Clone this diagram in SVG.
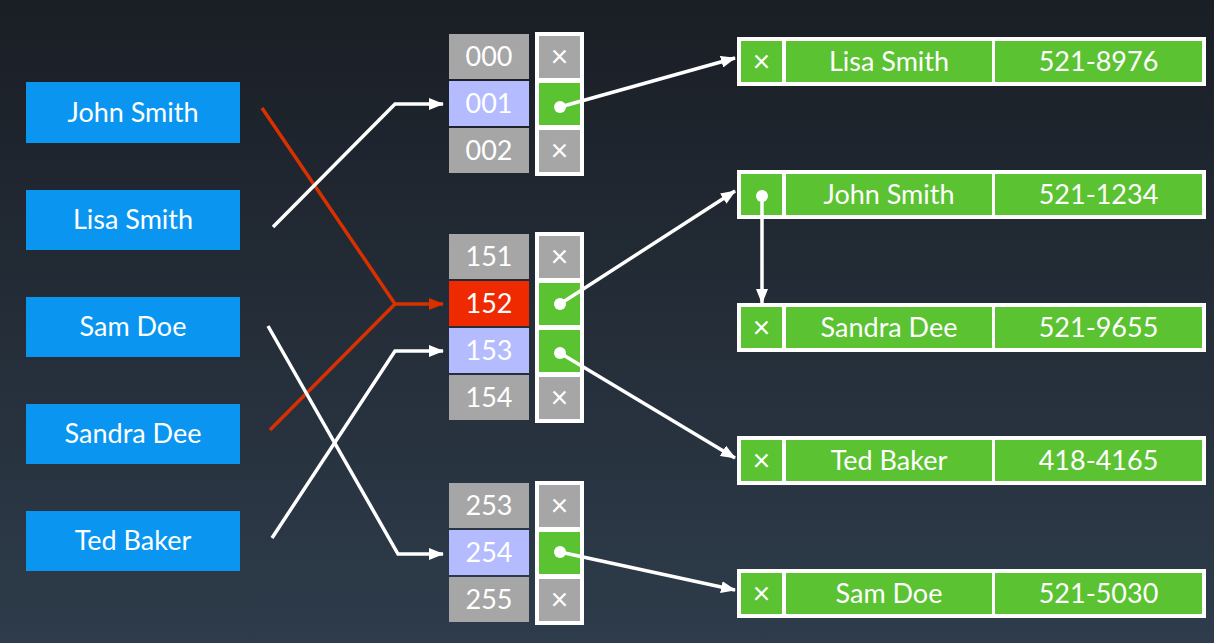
<svg xmlns="http://www.w3.org/2000/svg" width="1214" height="643" viewBox="0 0 1214 643">
<defs>
<linearGradient id="bg" x1="0" y1="0" x2="0" y2="1">
<stop offset="0" stop-color="#1a1e25"/>
<stop offset="1" stop-color="#2e3c4b"/>
</linearGradient>
<marker id="aw" markerUnits="userSpaceOnUse" markerWidth="15" markerHeight="12" refX="14" refY="6" orient="auto">
<path d="M0,0 L15,6 L0,12 Z" fill="#ffffff"/>
</marker>
<marker id="ar" markerUnits="userSpaceOnUse" markerWidth="15" markerHeight="12" refX="14" refY="6" orient="auto">
<path d="M0,0 L15,6 L0,12 Z" fill="#d93000"/>
</marker>
</defs>
<style>
text{font-family:Lato,"Open Sans","DejaVu Sans",sans-serif;fill:#ffffff;text-anchor:middle}
.key{fill:#0a96f0}
.kt{font-size:27px}
.gray{fill:#a6a6a6}
.lav{fill:#b4bbff}
.red{fill:#f02a00}
.grn{fill:#5bc232}
.wht{fill:#ffffff}
.it{font-size:27px}
.x{font-size:30px}
.rt{font-size:27px}
.lw{fill:none;stroke:#ffffff;stroke-width:3.5;stroke-linejoin:miter}
.lr{fill:none;stroke:#d93000;stroke-width:3.5}
.dot{fill:#ffffff}
</style>
<rect x="0" y="0" width="1214" height="643" fill="url(#bg)"/>

<g id="key-john"><rect class="key" x="26" y="82" width="214" height="61"/><text class="kt" x="133" y="122">John Smith</text></g>
<g id="key-lisa"><rect class="key" x="26" y="190" width="214" height="60"/><text class="kt" x="133" y="229">Lisa Smith</text></g>
<g id="key-sam"><rect class="key" x="26" y="297" width="214" height="60"/><text class="kt" x="133" y="336">Sam Doe</text></g>
<g id="key-sandra"><rect class="key" x="26" y="404" width="214" height="60"/><text class="kt" x="133" y="443">Sandra Dee</text></g>
<g id="key-ted"><rect class="key" x="26" y="511" width="214" height="60"/><text class="kt" x="133" y="550">Ted Baker</text></g>

<g id="bucket-000"><rect class="gray" x="449" y="34" width="80" height="45"/><text class="it" x="489" y="66">000</text></g>
<g id="bucket-001"><rect class="lav" x="449" y="81" width="80" height="45"/><text class="it" x="489" y="113">001</text></g>
<g id="bucket-002"><rect class="gray" x="449" y="128" width="80" height="45"/><text class="it" x="489" y="160">002</text></g>
<g id="ptr-col-1">
<rect class="wht" x="535" y="32" width="49" height="144"/>
<rect class="gray" x="539" y="36" width="41" height="42"/><text class="x" x="559.5" y="67">×</text>
<rect class="grn" x="539" y="83" width="41" height="42"/>
<rect class="gray" x="539" y="130" width="41" height="42"/><text class="x" x="559.5" y="161">×</text>
</g>

<g id="bucket-151"><rect class="gray" x="449" y="234" width="80" height="45"/><text class="it" x="489" y="266">151</text></g>
<g id="bucket-152"><rect class="red" x="449" y="281" width="80" height="45"/><text class="it" x="489" y="313">152</text></g>
<g id="bucket-153"><rect class="lav" x="449" y="328" width="80" height="45"/><text class="it" x="489" y="360">153</text></g>
<g id="bucket-154"><rect class="gray" x="449" y="375" width="80" height="45"/><text class="it" x="489" y="407">154</text></g>
<g id="ptr-col-2">
<rect class="wht" x="535" y="232" width="49" height="191"/>
<rect class="gray" x="539" y="236" width="41" height="42"/><text class="x" x="559.5" y="267">×</text>
<rect class="grn" x="539" y="283" width="41" height="42"/>
<rect class="grn" x="539" y="330" width="41" height="42"/>
<rect class="gray" x="539" y="377" width="41" height="42"/><text class="x" x="559.5" y="408">×</text>
</g>

<g id="bucket-253"><rect class="gray" x="449" y="483" width="80" height="45"/><text class="it" x="489" y="515">253</text></g>
<g id="bucket-254"><rect class="lav" x="449" y="530" width="80" height="45"/><text class="it" x="489" y="562">254</text></g>
<g id="bucket-255"><rect class="gray" x="449" y="577" width="80" height="45"/><text class="it" x="489" y="609">255</text></g>
<g id="ptr-col-3">
<rect class="wht" x="535" y="481" width="49" height="144"/>
<rect class="gray" x="539" y="485" width="41" height="42"/><text class="x" x="559.5" y="516">×</text>
<rect class="grn" x="539" y="532" width="41" height="42"/>
<rect class="gray" x="539" y="579" width="41" height="42"/><text class="x" x="559.5" y="610">×</text>
</g>

<g id="rec-lisa">
<rect class="wht" x="737" y="37" width="469" height="49"/>
<rect class="grn" x="741" y="41" width="41" height="41"/><text class="x" x="761.5" y="72">×</text>
<rect class="grn" x="786" y="41" width="206" height="41"/><text class="rt" x="889" y="71">Lisa Smith</text>
<rect class="grn" x="995" y="41" width="207" height="41"/><text class="rt" x="1098.5" y="71">521-8976</text>
</g>
<g id="rec-john">
<rect class="wht" x="737" y="170" width="469" height="49"/>
<rect class="grn" x="741" y="174" width="41" height="41"/>
<rect class="grn" x="786" y="174" width="206" height="41"/><text class="rt" x="889" y="204">John Smith</text>
<rect class="grn" x="995" y="174" width="207" height="41"/><text class="rt" x="1098.5" y="204">521-1234</text>
</g>
<g id="rec-sandra">
<rect class="wht" x="737" y="303" width="469" height="49"/>
<rect class="grn" x="741" y="307" width="41" height="41"/><text class="x" x="761.5" y="338">×</text>
<rect class="grn" x="786" y="307" width="206" height="41"/><text class="rt" x="889" y="337">Sandra Dee</text>
<rect class="grn" x="995" y="307" width="207" height="41"/><text class="rt" x="1098.5" y="337">521-9655</text>
</g>
<g id="rec-ted">
<rect class="wht" x="737" y="436" width="469" height="49"/>
<rect class="grn" x="741" y="440" width="41" height="41"/><text class="x" x="761.5" y="471">×</text>
<rect class="grn" x="786" y="440" width="206" height="41"/><text class="rt" x="889" y="470">Ted Baker</text>
<rect class="grn" x="995" y="440" width="207" height="41"/><text class="rt" x="1098.5" y="470">418-4165</text>
</g>
<g id="rec-sam">
<rect class="wht" x="737" y="569" width="469" height="49"/>
<rect class="grn" x="741" y="573" width="41" height="41"/><text class="x" x="761.5" y="604">×</text>
<rect class="grn" x="786" y="573" width="206" height="41"/><text class="rt" x="889" y="603">Sam Doe</text>
<rect class="grn" x="995" y="573" width="207" height="41"/><text class="rt" x="1098.5" y="603">521-5030</text>
</g>

<g id="connectors">
<polyline class="lr" points="262,108 395,304 443,304" marker-end="url(#ar)"/>
<polyline class="lr" points="270,430 395,304"/>
<polyline class="lw" points="273,227 395,104 443,104" marker-end="url(#aw)"/>
<polyline class="lw" points="268,326 398,554 443,554" marker-end="url(#aw)"/>
<polyline class="lw" points="272,538 395,351 443,351" marker-end="url(#aw)"/>
<line class="lw" x1="560" y1="107" x2="735" y2="58" marker-end="url(#aw)"/>
<circle class="dot" cx="560" cy="107" r="6"/>
<line class="lw" x1="560" y1="304" x2="735" y2="191" marker-end="url(#aw)"/>
<circle class="dot" cx="560" cy="304" r="6"/>
<line class="lw" x1="560" y1="353" x2="735" y2="458" marker-end="url(#aw)"/>
<circle class="dot" cx="560" cy="353" r="6"/>
<line class="lw" x1="560" y1="552" x2="735" y2="590" marker-end="url(#aw)"/>
<circle class="dot" cx="560" cy="552" r="6"/>
<line class="lw" x1="762" y1="196" x2="762" y2="303" marker-end="url(#aw)"/>
<circle class="dot" cx="762" cy="196" r="6"/>
</g>
</svg>
